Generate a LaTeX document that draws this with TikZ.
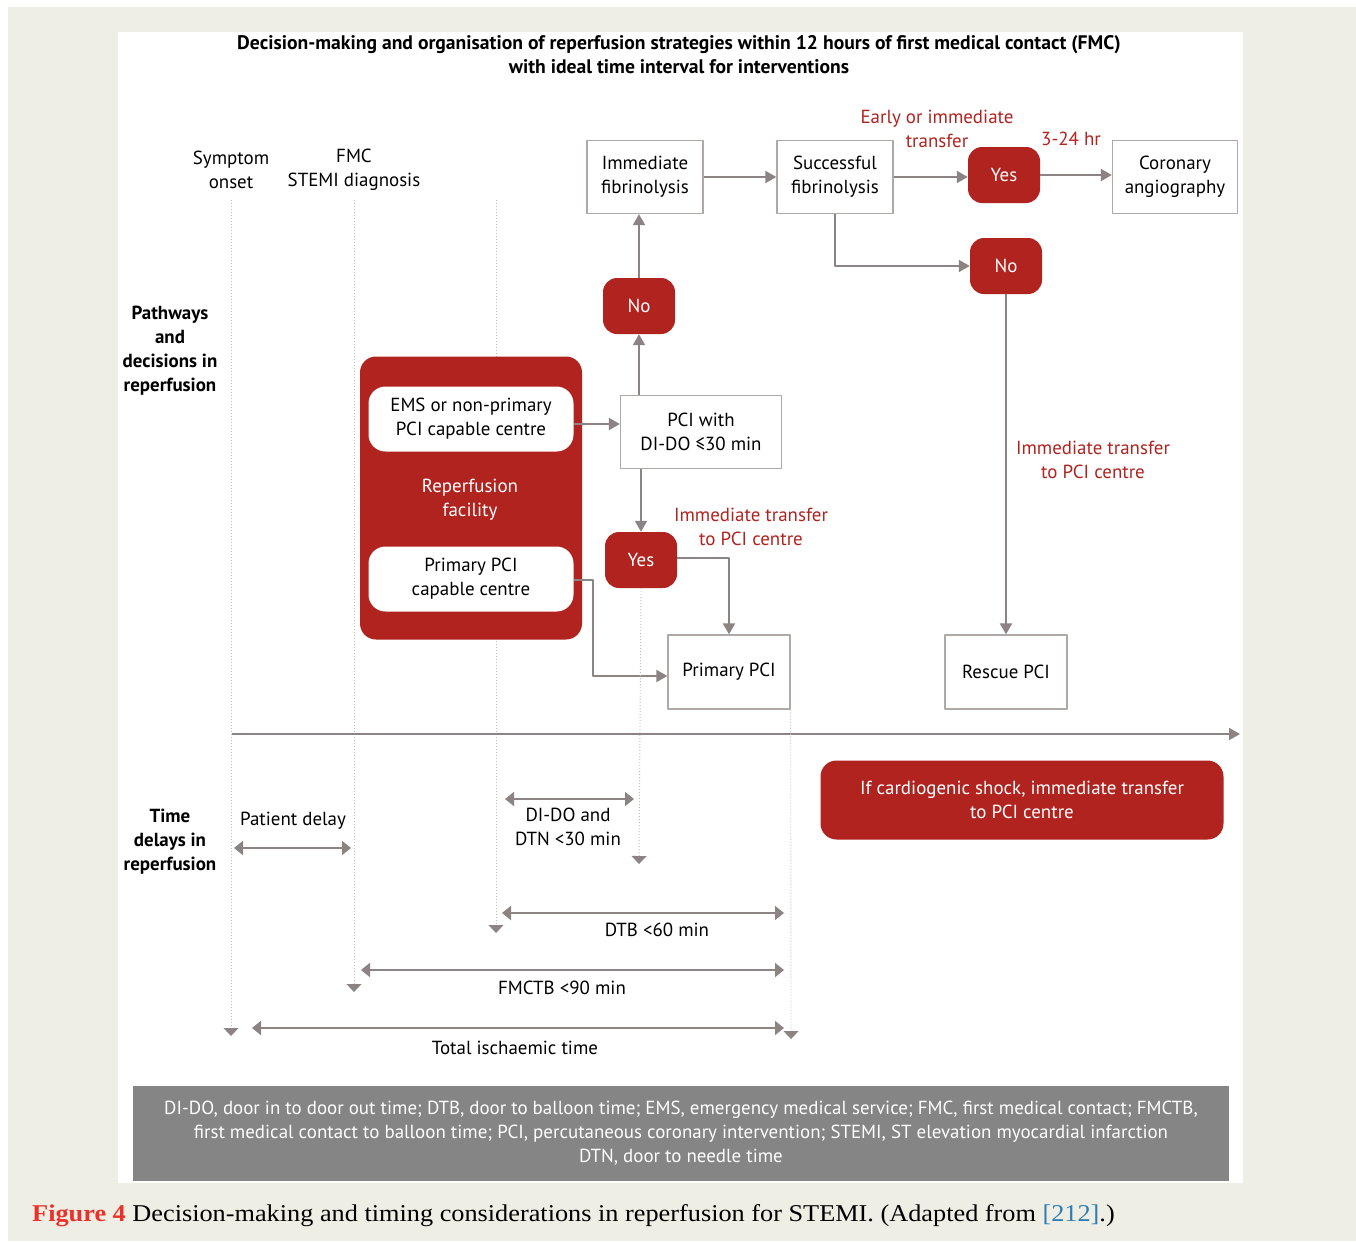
\documentclass[tikz,border=0pt]{standalone}
\usepackage{fontspec}
\setmainfont{PT Sans}
\newfontfamily\capfont[FakeStretch=1.09]{Liberation Serif}
\usetikzlibrary{arrows.meta,positioning}
\definecolor{redbox}{HTML}{B0231F}
\definecolor{linegray}{HTML}{8B8482}
\definecolor{paper}{HTML}{EFEEE4}
\definecolor{legendgray}{HTML}{858585}
\definecolor{refblue}{HTML}{2E7DB5}
\definecolor{figred}{HTML}{E8322B}
\tikzstyle{box}=[draw=linegray!70,line width=1.3bp,fill=white,minimum width=116bp,minimum height=73bp,align=center,inner sep=0pt]
\tikzstyle{decision}=[fill=redbox,rounded corners=14bp,minimum width=72bp,minimum height=56bp,text=white,inner sep=0pt]
\tikzstyle{centre}=[fill=white,rounded corners=17bp,minimum width=205bp,minimum height=65bp,align=center,inner sep=0pt]
\tikzstyle{note}=[text=redbox,align=center]
\tikzstyle{head}=[align=center,font=\fontsize{19}{24}\selectfont\bfseries]
\tikzstyle{flow}=[draw=linegray,line width=2bp,-{Triangle[length=11bp,width=12bp]}]
\tikzstyle{span}=[draw=linegray,line width=2bp,{Triangle[length=9bp,width=14bp]}-{Triangle[length=9bp,width=14bp]}]
\tikzstyle{tick}=[draw=linegray!55,line width=0.9bp,dash pattern=on 1bp off 2bp,-{Triangle[length=8bp,width=15bp,color=linegray]}]

\begin{document}
\begin{tikzpicture}[x=1bp,y=-1bp,line join=bevel,font=\fontsize{19}{24}\selectfont]
	% page
	\useasboundingbox (0,0) rectangle (1356,1241);
	\fill[paper] (8,7) rectangle (1356,1241);
	\fill[white] (118,32) rectangle (1243,1183);
	%%
	\node (title) at (679,55) [head,font=\fontsize{19.7}{24}\selectfont\bfseries] {Decision-making and organisation of reperfusion strategies within 12 hours of first medical contact (FMC)\\with ideal time interval for interventions};
	\node (onset) at (231,170) [align=center] {Symptom\\onset};
	\node (fmc) at (354,170) [align=center] {FMC\\STEMI diagnosis};
	\node (pathways) at (170,351) [head] {Pathways\\and\\decisions in\\reperfusion};
	\node (delays) at (170,842) [head] {Time\\delays in\\reperfusion};
	% time marks behind the boxes
	\coordinate (onsettop) at (231,200);
	\coordinate (onsetend) at (231,1036);
	\coordinate (fmctop) at (354,200);
	\coordinate (fmcend) at (354,992);
	\coordinate (doortop) at (496,200);
	\coordinate (doorend) at (496,933);
	\draw [tick] (onsettop) -- (onsetend);
	\draw [tick] (fmctop) -- (fmcend);
	\draw [tick] (doortop) -- (doorend);
	%
	\node (facility) at (471,498) [fill=redbox,rounded corners=16bp,minimum width=222bp,minimum height=283bp] {};
	\node (ems) at (471,419) [centre] {EMS or non-primary\\PCI capable centre};
	\node (reperf) at (470,500) [align=center,text=white] {Reperfusion\\facility};
	\node (ppcicentre) at (471,579) [centre] {Primary PCI\\capable centre};
	%
	\node (immfib) at (645,177) [box] {Immediate\\fibrinolysis};
	\node (succfib) at (835,177) [box] {Successful\\fibrinolysis};
	\node (yesA) at (1004,175) [decision] {Yes};
	\node (coro) at (1175,177) [box,minimum width=125bp] {Coronary\\angiography};
	\node (noA) at (1006,266) [decision] {No};
	\node (noB) at (639,306) [decision] {No};
	\node (pciwith) at (701,432) [box,minimum width=161bp] {PCI with\\DI-DO \char"2264 30 min};
	\node (yesB) at (641,560) [decision] {Yes};
	\node (ppci) at (729,672) [box,minimum width=122bp,minimum height=74bp] {Primary PCI};
	\node (rescue) at (1006,672) [box,minimum width=122bp,minimum height=74bp] {Rescue PCI};
	%
	\node (early) at (937,129) [note] {Early or immediate\\transfer};
	\node (hours) at (1071,139) [note] {3-24 hr};
	\node (transferA) at (1093,460) [note] {Immediate transfer\\to PCI centre};
	\node (transferB) at (751,527) [note] {Immediate transfer\\to PCI centre};
	\node (shock) at (1022,800) [fill=redbox,rounded corners=16bp,minimum width=403bp,minimum height=79bp,text=white,align=center] {If cardiogenic shock, immediate transfer\\to PCI centre};
	%
	\draw [flow] (immfib) -- (succfib);
	\draw [flow] (succfib) -- (succfib -| yesA.west);
	\draw [flow] (yesA) -- (yesA -| coro.west);
	\draw [flow] (succfib.south) |- (noA.west);
	\draw [flow] (noA.south -| rescue) -- (rescue.north);
	\draw [flow] (ems.east |- 0,424) -- (pciwith.west |- 0,424);
	\draw [flow] (pciwith.north -| noB) -- (noB.south);
	\draw [flow] (noB.north) -- (immfib.south -| noB);
	\draw [flow] (pciwith.south -| yesB) -- (yesB.north);
	\draw [flow] (yesB.east |- 0,558) -| (ppci.north);
	\draw [flow] (ppcicentre.east |- 0,580) -| (593,676) -- (ppci.west |- 0,676);
	% time line
	\coordinate (t0) at (232,734);
	\coordinate (t1) at (1240,734);
	\draw [flow] (t0) -- (t1);
	\coordinate (needleend) at (639,864);
	\coordinate (balloonend) at (791,1039);
	\draw [tick] (yesB.south) -- (needleend);
	\draw [tick] (ppci.south east) -- (balloonend);
	% delays
	\node (patient) at (293,821) {Patient delay};
	\node (dido) at (568,827) [align=center] {DI-DO and\\DTN <30 min};
	\node (dtb) at (657,930) {DTB <60 min};
	\node (fmctb) at (562,988) {FMCTB <90 min};
	\node (total) at (515,1048) {Total ischaemic time};
	\coordinate (pd0) at (234,848);
	\coordinate (pd1) at (351,848);
	\coordinate (dd0) at (505,799);
	\coordinate (dd1) at (634,799);
	\coordinate (db0) at (502,913);
	\coordinate (db1) at (784,913);
	\coordinate (fb0) at (361,970);
	\coordinate (fb1) at (784,970);
	\coordinate (ti0) at (252,1028);
	\coordinate (ti1) at (784,1028);
	\draw [span] (pd0) -- (pd1);
	\draw [span] (dd0) -- (dd1);
	\draw [span] (db0) -- (db1);
	\draw [span] (fb0) -- (fb1);
	\draw [span] (ti0) -- (ti1);
	% legend and caption
	\node (legend) at (681,1133) [fill=legendgray,minimum width=1096bp,minimum height=95bp,text=white,align=center,font=\fontsize{19}{24}\selectfont] {DI-DO, door in to door out time; DTB, door to balloon time; EMS, emergency medical service; FMC, first medical contact; FMCTB,\\first medical contact to balloon time; PCI, percutaneous coronary intervention; STEMI, ST elevation myocardial infarction\\DTN, door to needle time};
	\node (caption) at (32,1216) [anchor=west,inner sep=0pt,font=\capfont\fontsize{24.2}{28}\selectfont] {\textcolor{figred}{\textbf{Figure 4}}\ Decision-making and timing considerations in reperfusion for STEMI. (Adapted from \textcolor{refblue}{[212]}.)};
\end{tikzpicture}
\end{document}
